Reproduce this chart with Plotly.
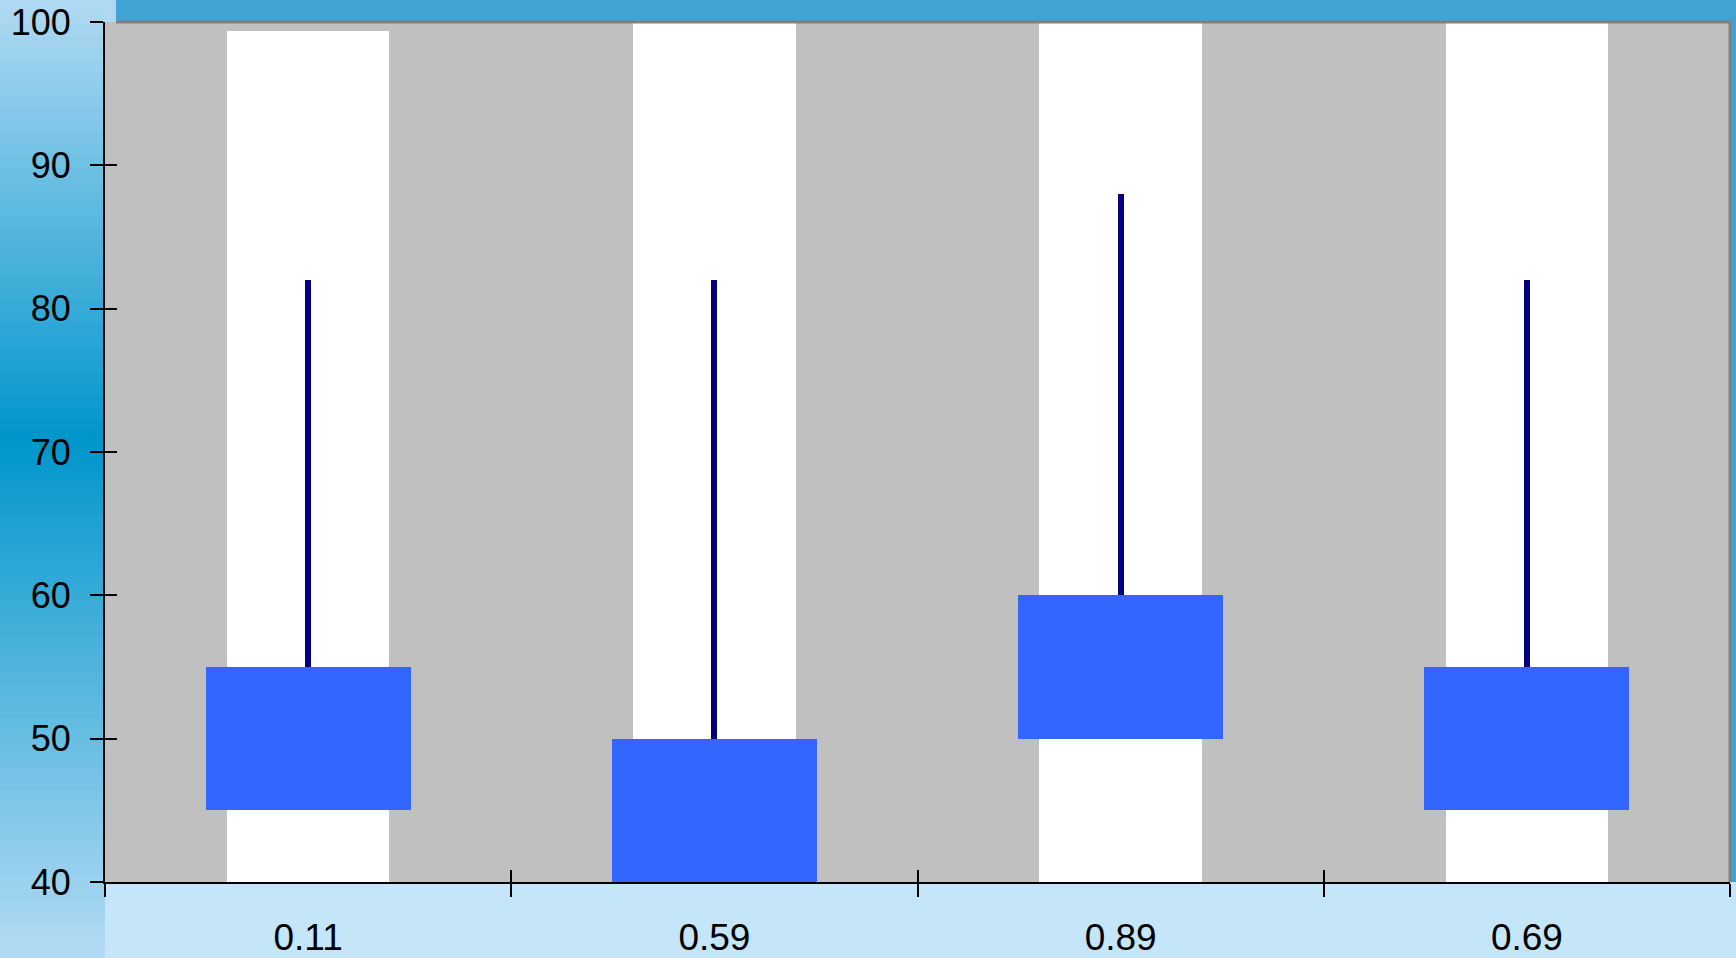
import plotly.graph_objects as go

# ---- data ----
categories = ["0.11", "0.59", "0.89", "0.69"]
bar_values = [99.4, 100, 100, 100]
open_vals = [45, 40, 50, 45]
close_vals = [55, 50, 60, 55]
high_vals = [82, 82, 88, 82]
low_vals = [45, 40, 50, 45]
y_ticks = [40, 50, 60, 70, 80, 90, 100]

W, H = 1736, 958
ML, MR, MT, MB = 105, 6, 22, 76
PW, PH = W - ML - MR, H - MT - MB

def px_x(px):
    return (px - ML) / PW

def px_y(py):
    return (H - MB - py) / PH

FONT = "Liberation Sans, Arial, sans-serif"

fig = go.Figure()

# white background columns
fig.add_trace(go.Bar(x=categories, y=bar_values, width=0.4,
                     marker=dict(color="#ffffff", line=dict(width=0)),
                     hoverinfo="skip", showlegend=False))
# whiskers (low -> high)
fig.add_trace(go.Bar(x=categories, y=[h - l for h, l in zip(high_vals, low_vals)],
                     base=low_vals, width=0.015,
                     marker=dict(color="#000080", line=dict(width=0)),
                     showlegend=False))
# boxes (open -> close)
fig.add_trace(go.Bar(x=categories, y=[c - o for c, o in zip(close_vals, open_vals)],
                     base=open_vals, width=0.505,
                     marker=dict(color="#3366ff", line=dict(width=0)),
                     showlegend=False))
# invisible trace for overlay axes (inside ticks)
fig.add_trace(go.Scatter(x=categories, y=bar_values, mode="none",
                         xaxis="x2", yaxis="y2", showlegend=False, hoverinfo="skip"))

# ---- background decoration ----
shapes = []
def lerp(c1, c2, t):
    return "#%02x%02x%02x" % tuple(round(a + (b - a) * t) for a, b in zip(c1, c2))

top_c = (0xb2, 0xda, 0xf3)
mid_c = (0x00, 0x96, 0xcb)
bot_c = (0xb4, 0xdb, 0xf4)
N = 80
for i in range(N):
    py0 = H * i / N
    py1 = H * (i + 1) / N + 1
    t = (py0 + py1) / 2 / H
    if t < 0.46:
        col = lerp(top_c, mid_c, t / 0.46)
    else:
        col = lerp(mid_c, bot_c, (t - 0.46) / 0.54)
    shapes.append(dict(type="rect", xref="paper", yref="paper", layer="below",
                       x0=px_x(0), x1=px_x(ML), y0=px_y(py1), y1=px_y(py0),
                       fillcolor=col, line=dict(width=0)))
# small patch above the axis
shapes.append(dict(type="rect", xref="paper", yref="paper", layer="below",
                   x0=px_x(ML - 1), x1=px_x(116), y0=px_y(MT), y1=px_y(0),
                   fillcolor="#b0d8f2", line=dict(width=0)))
# top strip
shapes.append(dict(type="rect", xref="paper", yref="paper", layer="below",
                   x0=px_x(116), x1=px_x(W), y0=px_y(MT), y1=px_y(0),
                   fillcolor="#41a2d4", line=dict(width=0)))
# right strip
shapes.append(dict(type="rect", xref="paper", yref="paper", layer="below",
                   x0=1, x1=px_x(W), y0=px_y(H - MB), y1=px_y(MT),
                   fillcolor="#41a2d4", line=dict(width=0)))
# gray frame on top and right
shapes.append(dict(type="path", xref="paper", yref="paper", layer="above",
                   path="M %f,1 L 1,1 L 1,0" % px_x(116),
                   line=dict(color="#808080", width=3)))

axis_common = dict(showgrid=False, zeroline=False, automargin=False)

fig.update_layout(
    width=W, height=H, autosize=False,
    margin=dict(l=ML, r=MR, t=MT, b=MB, pad=0),
    paper_bgcolor="#c5e6f8",
    plot_bgcolor="#c0c0c0",
    barmode="overlay",
    bargap=0,
    showlegend=False,
    font=dict(family=FONT, size=36, color="#000000"),
    shapes=shapes,
    xaxis=dict(**axis_common, type="category", categoryorder="array",
               categoryarray=categories, range=[-0.5, 3.5],
               showline=True, linecolor="#000000", linewidth=2,
               ticks="outside", tickson="boundaries", ticklen=13,
               tickwidth=2, tickcolor="#000000",
               ticklabelstandoff=22,
               tickfont=dict(family=FONT, size=37, color="#000000")),
    yaxis=dict(**axis_common, range=[40, 100], tickvals=y_ticks,
               showline=True, linecolor="#000000", linewidth=2,
               ticks="outside", ticklen=13, tickwidth=2, tickcolor="#000000",
               ticklabelstandoff=12,
               tickfont=dict(family=FONT, size=36, color="#000000")),
    xaxis2=dict(**axis_common, type="category", categoryorder="array",
                categoryarray=categories, range=[-0.5, 3.5],
                overlaying="x", anchor="y2", side="bottom",
                showline=False, ticks="inside", tickson="boundaries",
                ticklen=12, tickwidth=2, tickcolor="#000000",
                showticklabels=False),
    yaxis2=dict(**axis_common, range=[40, 100], tickvals=y_ticks,
                overlaying="y", anchor="x2", side="left",
                showline=False, ticks="inside", ticklen=12, tickwidth=2,
                tickcolor="#000000", showticklabels=False),
)

fig.write_html("out.html")
